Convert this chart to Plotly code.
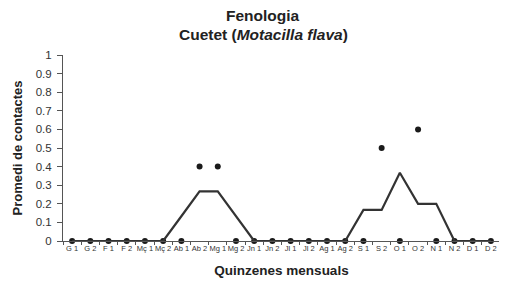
import plotly.graph_objects as go

categories = ["G 1", "G 2", "F 1", "F 2", "Mç 1", "Mç 2", "Ab 1", "Ab 2", "Mg 1", "Mg 2",
              "Jn 1", "Jn 2", "Jl 1", "Jl 2", "Ag 1", "Ag 2", "S 1", "S 2", "O 1", "O 2",
              "N 1", "N 2", "D 1", "D 2"]
mean_values = [0, 0, 0, 0, 0, 0, 0.133, 0.267, 0.267, 0.133,
               0, 0, 0, 0, 0, 0, 0.167, 0.167, 0.367, 0.2,
               0.2, 0, 0, 0]
point_values = [0, 0, 0, 0, 0, 0, 0, 0.4, 0.4, 0,
                0, 0, 0, 0, 0, 0, 0, 0.5, 0, 0.6,
                0, 0, 0, 0]
y_ticks = [0, 0.1, 0.2, 0.3, 0.4, 0.5, 0.6, 0.7, 0.8, 0.9, 1]
title_line1 = "<b>Fenologia</b>"
title_line2 = "<b>Cuetet (<i>Motacilla flava</i>)</b>"

fig = go.Figure()
fig.add_trace(go.Scatter(x=categories, y=point_values, mode="markers",
                         marker=dict(color="#1a1a1a", size=6),
                         cliponaxis=False, showlegend=False))
fig.add_trace(go.Scatter(x=categories, y=mean_values, mode="lines",
                         line=dict(color="#333333", width=2.2),
                         cliponaxis=False, showlegend=False))

fig.add_annotation(text=title_line1, xref="paper", yref="paper", x=0.458, y=1.213,
                   xanchor="center", yanchor="middle", showarrow=False,
                   font=dict(size=15.5, color="#222222"))
fig.add_annotation(text=title_line2, xref="paper", yref="paper", x=0.458, y=1.11,
                   xanchor="center", yanchor="middle", showarrow=False,
                   font=dict(size=15.5, color="#222222"))

fig.update_layout(
    width=499, height=274,
    margin=dict(l=55, r=7, t=47, b=41),
    paper_bgcolor="white", plot_bgcolor="white",
    font=dict(family="Liberation Sans, Arial, sans-serif", color="#222222"),
    xaxis=dict(type="category", range=[-0.5, 23.5], showgrid=False, zeroline=False,
               showline=True, linecolor="#555555", linewidth=1,
               ticks="outside", ticklen=3, tickcolor="#555555", tickson="boundaries",
               tickangle=0,
               tickfont=dict(size=7.5, color="#333333"),
               title=dict(text="<b>Quinzenes mensuals</b>", font=dict(size=13.5), standoff=13)),
    yaxis=dict(range=[0, 1], tickvals=y_ticks, ticktext=[f"{v:g}" for v in y_ticks],
               showgrid=False, zeroline=False,
               showline=True, linecolor="#555555", linewidth=1,
               ticks="outside", ticklen=5, tickcolor="#555555",
               ticklabelstandoff=3,
               tickfont=dict(size=11.5, color="#333333"),
               title=dict(text="<b>Promedi de contactes</b>", font=dict(size=13), standoff=10)),
)

fig.write_html("out.html")
